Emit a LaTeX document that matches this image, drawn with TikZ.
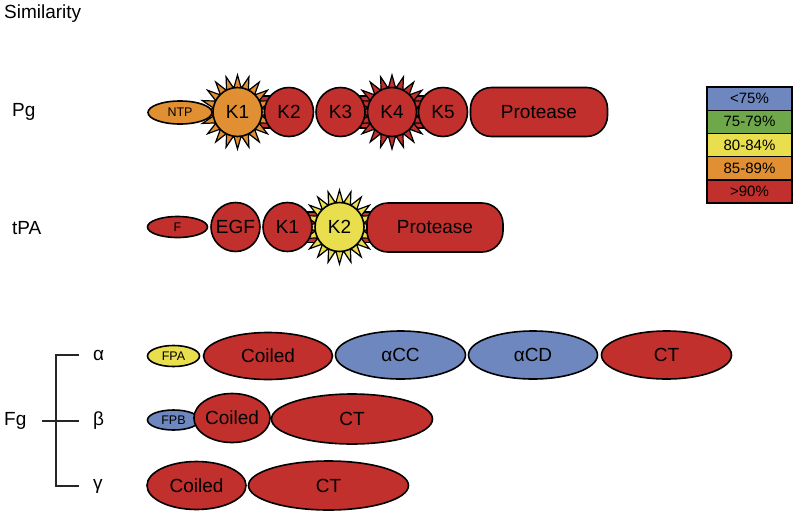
\documentclass[tikz,border=0pt]{standalone}
\usepackage{fontspec}
\setmainfont{Liberation Sans}
\usetikzlibrary{shapes.geometric,backgrounds}

\definecolor{simbleu}{RGB}{110,135,190}
\definecolor{simvert}{RGB}{110,168,75}
\definecolor{simjaune}{RGB}{232,222,78}
\definecolor{simorange}{RGB}{224,143,50}
\definecolor{simrouge}{RGB}{193,48,45}

\newcommand{\grandfont}{\fontsize{19}{21}\selectfont}
\newcommand{\petitfont}{\fontsize{12.5}{14}\selectfont}
\newcommand{\legfont}{\fontsize{15}{17}\selectfont}

% soleil derriere un kringle : #1 noeud, #2 couleur
\newcommand{\soleil}[2]{%
		\filldraw[fill=#2, draw=black, line width=1.2pt, line join=miter, shift={(#1.center)}]
		(90:37) \foreach \k in {1,...,20} {-- ({90+\k*18-9}:24) -- ({90+\k*18}:37)} -- cycle;%
}

\tikzset{
	dom/.style={draw=black, line width=1.6pt, inner sep=0pt, font=\grandfont},
	kringle/.style={dom, circle, minimum size=49pt},
	ovale/.style={dom, ellipse, minimum width=#1},
	petit/.style={dom, ellipse, minimum height=21pt, font=\petitfont},
	protease/.style={dom, rectangle, rounded corners=21pt, minimum width=136pt, minimum height=49pt},
	linker/.style={fill=simrouge, draw=black, line width=1.2pt},
	etiquette/.style={anchor=west, font=\grandfont, inner sep=0pt},
	bracket/.style={line width=1.6pt, draw=black!85},
	legende/.style={draw=black, line width=1.4pt, minimum width=85pt, minimum height=23.2pt, inner sep=0pt, font=\legfont}
}

\begin{document}
\begin{tikzpicture}[x=1pt, y=-1pt]
			\useasboundingbox (0,0) rectangle (800,520);
			\node[etiquette] (titre) at (4,14) {Similarity};

			% Pg
			\begin{scope}
				\node[etiquette] (pg) at (12,112) {Pg};
				\node[petit, fill=simorange, minimum width=64pt, minimum height=23pt] (pntp) at (180,112.5) {NTP};
				\node[kringle, fill=simorange] (pk1) at (237.5,112) {K1};
				\node[kringle, fill=simrouge] (pk2) at (289,112) {K2};
				\node[kringle, fill=simrouge] (pk3) at (340.5,112) {K3};
				\node[kringle, fill=simrouge] (pk4) at (392,112) {K4};
				\node[kringle, fill=simrouge] (pk5) at (443,112) {K5};
				\node[protease, fill=simrouge, minimum width=137pt] (pprot) at (539,112) {Protease};
				\begin{pgfonlayer}{background}
					\filldraw[linker] ([yshift=16pt]pk1.center) rectangle ([yshift=-16pt]pk2.center);
					\filldraw[linker] ([yshift=16pt]pk3.center) rectangle ([yshift=-16pt]pk5.center);
					\soleil{pk1}{simorange}
					\soleil{pk4}{simrouge}
				\end{pgfonlayer}
			\end{scope}

			% tPA
			\begin{scope}
				\node[etiquette] (tpa) at (12,228) {tPA};
				\node[petit, fill=simrouge, minimum width=60pt] (tf) at (177.5,227) {F};
				\node[kringle, fill=simrouge] (tegf) at (235.5,227) {EGF};
				\node[kringle, fill=simrouge] (tk1) at (287.5,227) {K1};
				\node[kringle, fill=simjaune] (tk2) at (339.5,227) {K2};
				\node[protease, fill=simrouge] (tprot) at (435,227.5) {Protease};
				\begin{pgfonlayer}{background}
					\filldraw[linker] ([yshift=15pt]tk1.center) rectangle ([yshift=-15pt]tprot.center);
					\soleil{tk2}{simjaune}
				\end{pgfonlayer}
			\end{scope}

			% legende
			\foreach \lab/\col [count=\i] in {<75\%/simbleu, 75-79\%/simvert, 80-84\%/simjaune, 85-89\%/simorange, >90\%/simrouge}
				\node[legende, fill=\col] (leg\i) at (749.5,{98.6+(\i-1)*23.2}) {\lab};

			% Fg
			\node[etiquette] (fg) at (4,421) {Fg};
			\node[etiquette] (alpha) at (93,355) {α};
			\node[etiquette] (beta) at (93,421) {β};
			\node[etiquette] (gamma) at (93,486) {γ};
			\coordinate (ba) at (79,355);
			\coordinate (bb) at (79,421);
			\coordinate (bg) at (79,486);
			\coordinate (bf) at (42,421);
			\draw[bracket] (ba) -- ++(-23,0) |- (bg);
			\draw[bracket] (bf) -- (bb);

			\node[petit, fill=simjaune, minimum width=52pt] (fpa) at (173.5,356) {FPA};
			\node[ovale=129pt, fill=simrouge, minimum height=47pt] (acoil) at (268,356) {Coiled};
			\node[ovale=130pt, fill=simbleu, minimum height=48pt] (acc) at (400.5,355) {αCC};
			\node[ovale=129pt, fill=simbleu, minimum height=48pt] (acd) at (533,355) {αCD};
			\node[ovale=130pt, fill=simrouge, minimum height=48pt] (act) at (666.5,355) {CT};

			\node[petit, fill=simbleu, minimum width=52pt, minimum height=20pt] (fpb) at (173.5,420) {FPB};
			\node[ovale=59pt, fill=simrouge, minimum height=49pt] (bcoil) at (232,418) {Coiled};
			\node[ovale=161pt, fill=simrouge, minimum height=50pt] (bct) at (352,419) {CT};

			\node[ovale=99pt, fill=simrouge, minimum height=48pt] (gcoil) at (196.5,485.5) {Coiled};
			\node[ovale=160pt, fill=simrouge, minimum height=49pt] (gct) at (328.5,485.5) {CT};
		\end{tikzpicture}
\end{document}
